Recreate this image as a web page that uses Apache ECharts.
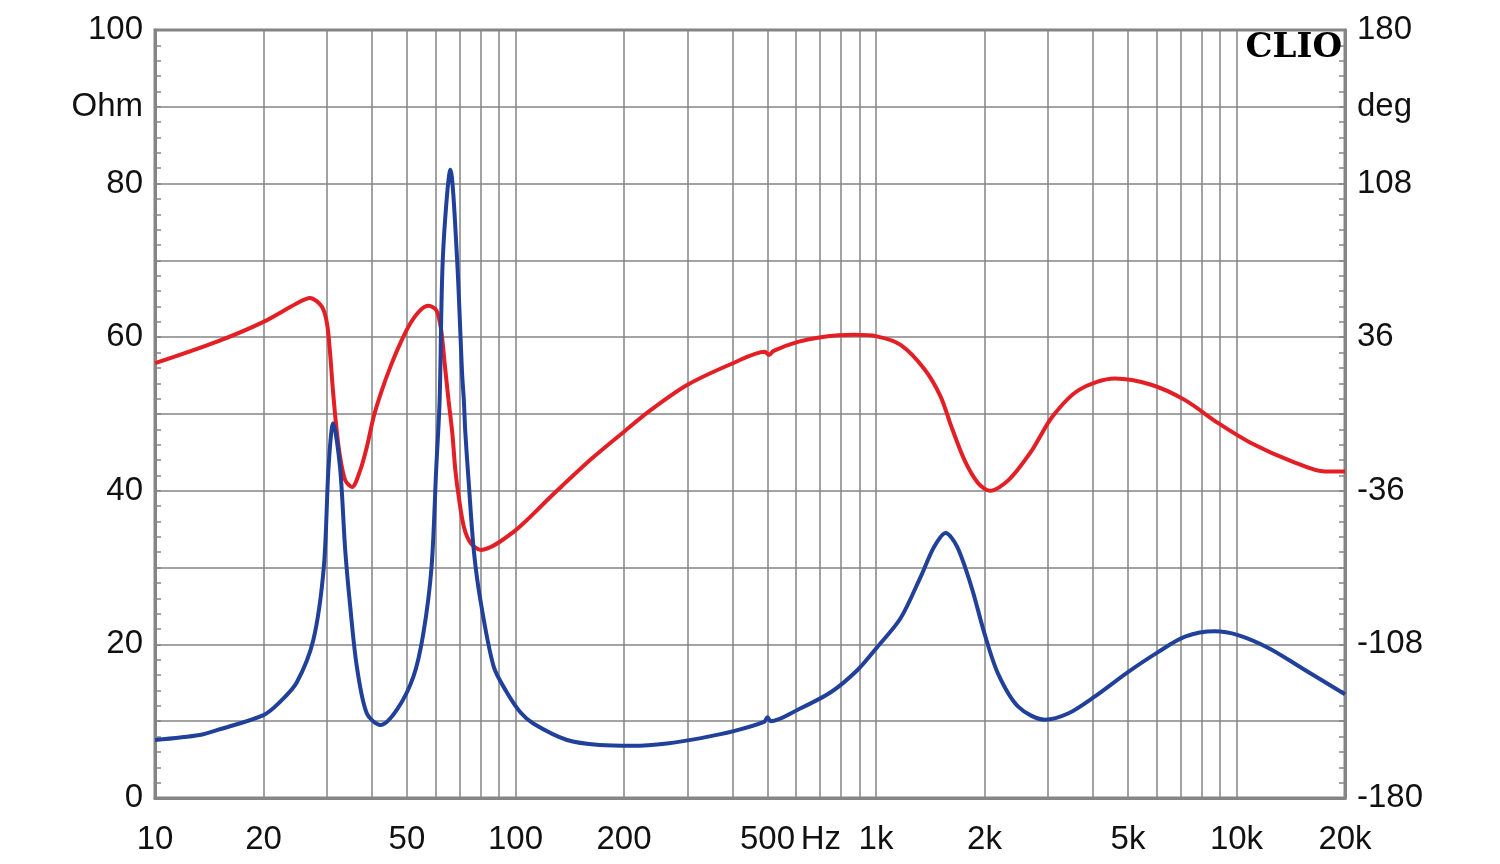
<!DOCTYPE html>
<html><head><meta charset="utf-8">
<script src="https://cdn.jsdelivr.net/npm/echarts@6/dist/echarts.min.js"></script>
<style>html,body{margin:0;padding:0;background:#fff}#c{width:1500px;height:864px}</style>
</head><body><div id="c"></div>
<script>
// ---- data ----
const xGridValues = [10,20,30,40,50,60,70,80,90,100,200,300,400,500,600,700,800,900,1000,
  2000,3000,4000,5000,6000,7000,8000,9000,10000,20000];
const xLabelValues = [10,20,50,100,200,500,703,1000,2000,5000,10000,20000];
const xLabelTexts  = ['10','20','50','100','200','500','Hz','1k','2k','5k','10k','20k'];
const ohmLabelValues = [0,20,40,60,80,90,100];
const ohmLabelTexts  = ['0','20','40','60','80','Ohm','100'];
const degLabelValues = [-180,-108,-36,36,108,144,180];
const degLabelTexts  = ['-180','-108','-36','36','108','deg','180'];

// impedance magnitude (Ohm)
const blueFreq = [10,13.3,15,20,22.2,24.7,27.5,29.4,30.3,31.2,32.6,33.7,34.8,36.3,38.7,42.2,46.9,52.1,55.5,58.5,60.3,61.6,62.9,66.0,68.8,71.1,71.9,72.6,74.2,76.6,79.9,87,94.5,103,112,139,171,212,263,327,403,489,500,510,607,751,890,1010,1170,1330,1450,1560,1680,1840,2000,2180,2480,2940,3410,4040,5000,6060,7200,8700,10100,12300,15200,20000];
const blueOhm  = [7.55,8.2,8.9,10.8,12.5,15,20.6,30.1,43.1,48.8,43.1,32.3,24.9,17.1,11,9.5,11.5,15.8,21.4,30.1,43.1,51.8,70.5,81.8,70.5,55.3,51.8,47.5,41,32.3,25.8,17.1,13.8,11.2,9.7,7.55,6.9,6.8,7.1,7.8,8.7,9.9,10.5,10.0,11.5,13.8,16.7,19.7,23.4,28.8,32.7,34.5,32.7,27.5,21.4,16.2,11.9,10.2,11.0,13.2,16.4,19.0,21.0,21.7,21.2,19.5,16.9,13.5];

// phase (deg)
const redFreq = [10,14.8,20,24.7,26.9,29,30,30.6,31.1,31.7,32.5,33.7,35.2,37.1,38.7,40.4,42.6,45,47.9,51.1,54.5,57.4,60.3,62.2,63.6,65.2,66.8,68.1,69.6,71.9,75.1,80.2,99,125,161,200,237,300,401,492,505,520,607,703,868,1005,1170,1360,1510,1620,1760,1920,2070,2330,2710,3080,3650,4600,5800,7200,8900,11000,14300,17600,20000];
const redDeg  = [23.8,33.8,43.2,51.8,54.4,50.4,42.5,28.4,12.9,-2.9,-18.4,-31,-34.2,-26.3,-15.4,-1.4,11.2,22.2,33.1,42.5,48.7,50.7,48.7,39.4,23.8,6.5,-9,-26.3,-38.9,-52.8,-60.5,-63.7,-55.1,-38.9,-21.6,-8.3,1.8,13.7,23.8,29.2,27.6,29.6,33.8,36,37.1,36.4,32.4,21.2,8.3,-6.1,-21.6,-32.4,-36,-31,-16.9,-1.4,11.2,16.6,13.7,6.5,-4.3,-13.7,-22.3,-27,-27];

// ---- chart ----
const GRAY = '#858585';
const FONT = '"Liberation Sans", Arial, sans-serif';
const chart = echarts.init(document.getElementById('c'), null, {renderer: 'canvas'});
const zip = (a, b) => a.map((v, i) => [v, b[i]]);
const lbl = (vals, txts) => v => { const i = vals.findIndex(x => Math.abs(x - v) < 1e-6 * Math.max(1, Math.abs(x))); return i >= 0 ? txts[i] : ''; };

chart.setOption({
  backgroundColor: '#fff',
  animation: false,
  grid: {left: 155, right: 155, top: 30, bottom: 66, show: true, borderColor: GRAY, borderWidth: 3, outerBoundsMode: 'none'},
  xAxis: {
    type: 'log', logBase: 10, min: 10, max: 20000,
    axisLine: {show: true, lineStyle: {color: GRAY, width: 3}},
    axisTick: {show: false, customValues: xGridValues},
    splitLine: {show: true, lineStyle: {color: GRAY, width: 1.5}},
    minorTick: {show: false}, minorSplitLine: {show: false},
    axisLabel: {customValues: xLabelValues, formatter: lbl(xLabelValues, xLabelTexts),
      color: '#111', fontSize: 33, fontFamily: FONT, margin: 25, hideOverlap: false, showMinLabel: true, showMaxLabel: true}
  },
  yAxis: [{
    type: 'value', min: 0, max: 100, interval: 10, position: 'left',
    axisLine: {show: true, lineStyle: {color: GRAY, width: 3}},
    axisTick: {show: true, inside: true, length: 6, lineStyle: {color: GRAY, width: 1.5}},
    minorTick: {show: true, splitNumber: 5, length: 6, lineStyle: {color: GRAY, width: 1.5}},
    splitLine: {show: true, lineStyle: {color: GRAY, width: 1.5}},
    axisLabel: {formatter: lbl(ohmLabelValues, ohmLabelTexts), color: '#111', fontSize: 33, fontFamily: FONT, margin: 12, hideOverlap: false, padding: [8, 0, 0, 0]}
  }, {
    type: 'value', min: -180, max: 180, interval: 36, position: 'right',
    axisLine: {show: true, lineStyle: {color: GRAY, width: 3}},
    axisTick: {show: true, inside: true, length: 6, lineStyle: {color: GRAY, width: 1.5}},
    minorTick: {show: true, splitNumber: 5, length: 6, lineStyle: {color: GRAY, width: 1.5}},
    splitLine: {show: false},
    axisLabel: {formatter: lbl(degLabelValues, degLabelTexts), color: '#111', fontSize: 33, fontFamily: FONT, margin: 12, hideOverlap: false, padding: [8, 0, 0, 0]}
  }],
  graphic: [{
    type: 'text', x: 1342, y: 31, z: 100,
    style: {text: 'CLIO', font: 'bold 34px "DejaVu Serif"', fill: '#000', align: 'right', verticalAlign: 'top'}
  }],
  series: [{
    name: 'Phase', type: 'line', yAxisIndex: 1, showSymbol: false, smooth: 0.3,
    data: zip(redFreq, redDeg), lineStyle: {color: '#e31e24', width: 4}, z: 3
  }, {
    name: 'Impedance', type: 'line', yAxisIndex: 0, showSymbol: false, smooth: 0.3,
    data: zip(blueFreq, blueOhm), lineStyle: {color: '#21409a', width: 4}, z: 4
  }]
});
</script></body></html>
